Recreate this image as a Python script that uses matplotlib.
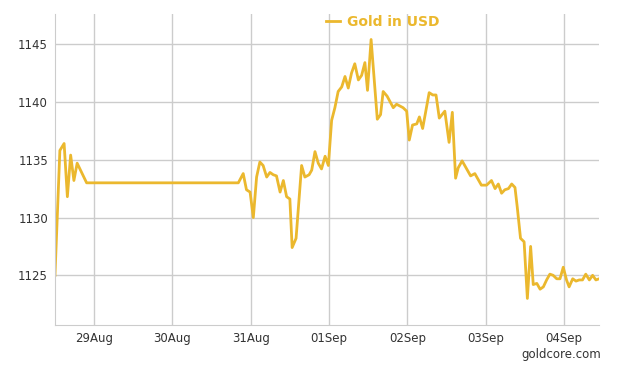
import matplotlib
matplotlib.use("Agg")
import numpy as np
import pandas as pd
import matplotlib.pyplot as plt
import matplotlib.dates as mdates

# hours after 28 Aug 2015 12:00 and gold price in USD
hours = [0, 1.5, 2.8, 3.8, 4.8, 5.8, 6.8, 9.7, 56.2, 57.7, 58.7, 59.8, 60.8,
         61.8, 62.8, 63.8, 64.9, 65.9, 66.9, 67.9, 69.0, 70.0, 71.0, 72.0,
         72.7, 73.9, 75.6, 76.6, 77.9, 78.7, 79.7, 80.7, 81.7, 82.8, 83.8,
         84.8, 85.8, 86.8, 87.9, 88.9, 89.9, 90.9, 91.9, 93.0, 94.0, 95.0,
         95.8, 96.9, 98.8, 99.8, 100.6, 101.8, 103.7, 104.7, 106.7, 107.8,
         108.6, 109.6, 110.9, 111.7, 112.7, 114.7, 115.8, 116.8, 117.8,
         119.5, 120.8, 121.8, 122.8, 123.6, 124.8, 126.2, 127.4, 128.7,
         130.7, 132.3, 133.8, 134.9, 135.9, 136.9, 137.9, 139.0, 140.0,
         141.0, 141.7, 142.7, 143.8, 144.8, 145.8, 146.6, 147.7, 148.7,
         149.7, 150.7, 151.7, 152.7, 153.8, 154.8, 155.8, 156.8, 157.6,
         158.7, 159.7, 160.7, 161.7, 162.7, 163.8, 164.8, 165.8, 166.8]
price = [1125.0, 1135.8, 1136.4, 1131.8, 1135.4, 1133.2, 1134.7, 1133.0,
         1133.0, 1133.8, 1132.4, 1132.2, 1130.0, 1133.5, 1134.8, 1134.5,
         1133.5, 1133.9, 1133.7, 1133.6, 1132.2, 1133.2, 1131.8, 1131.6,
         1127.4, 1128.2, 1134.5, 1133.5, 1133.7, 1134.1, 1135.7, 1134.7,
         1134.2, 1135.3, 1134.5, 1138.4, 1139.5, 1140.9, 1141.3, 1142.2,
         1141.2, 1142.5, 1143.3, 1141.9, 1142.3, 1143.4, 1141.0, 1145.4,
         1138.5, 1138.9, 1140.9, 1140.5, 1139.5, 1139.8, 1139.5, 1139.2,
         1136.7, 1138.0, 1138.1, 1138.7, 1137.7, 1140.8, 1140.6, 1140.6,
         1138.6, 1139.2, 1136.5, 1139.1, 1133.4, 1134.3, 1134.9, 1134.2,
         1133.6, 1133.8, 1132.8, 1132.8, 1133.2, 1132.5, 1132.9, 1132.1,
         1132.4, 1132.5, 1132.9, 1132.6, 1130.9, 1128.2, 1127.9, 1123.0,
         1127.5, 1124.2, 1124.3, 1123.8, 1124.0, 1124.6, 1125.1, 1125.0,
         1124.7, 1124.7, 1125.7, 1124.6, 1124.0, 1124.7, 1124.5, 1124.6,
         1124.6, 1125.1, 1124.6, 1125.0, 1124.6, 1124.7]
y_ticks = [1125, 1130, 1135, 1140, 1145]

start = pd.Timestamp("2015-08-28 12:00")
times = start + pd.to_timedelta(hours, unit="h")

gold = "#EBB82E"
grid = "#CCCCCC"

fig = plt.figure(figsize=(6.24, 3.68), dpi=100)
ax = fig.add_axes([0.0881, 0.1168, 0.8718, 0.845])

ax.plot(times, price, color=gold, lw=2, label="Gold in USD")

ax.set_xlim(start, pd.Timestamp("2015-09-04 10:45"))
ax.set_ylim(1120.7, 1147.6)
ax.set_yticks(y_ticks)
ax.xaxis.set_major_locator(mdates.DayLocator())
ax.xaxis.set_major_formatter(mdates.DateFormatter("%d%b"))

ax.grid(True, color=grid, lw=1)
ax.set_axisbelow(True)
for s in ["top", "right"]:
    ax.spines[s].set_visible(False)
for s in ["left", "bottom"]:
    ax.spines[s].set_color(grid)
ax.tick_params(length=0, labelsize=8.5, colors="#333333", pad=5)

leg = fig.legend(loc="center", bbox_to_anchor=(0.614, 0.94), frameon=False,
                 handlelength=1.0, handletextpad=0.5,
                 prop={"weight": "bold", "size": 10})
for t in leg.get_texts():
    t.set_color(gold)

fig.text(0.963, 0.038, "goldcore.com", ha="right", va="center",
         fontsize=8.5, color="#333333")

fig.savefig("out.png", dpi=100)
